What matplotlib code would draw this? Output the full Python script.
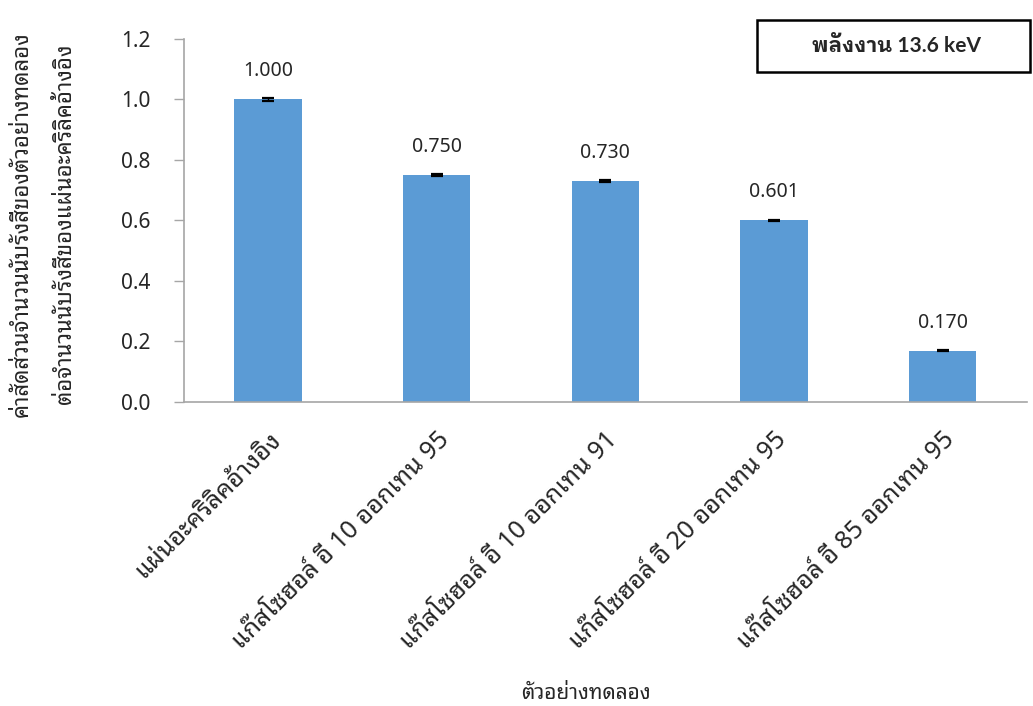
import matplotlib
matplotlib.use("Agg")
import matplotlib.pyplot as plt
from matplotlib.patches import Rectangle

FONT = ["Noto Sans", "Noto Sans Thai Looped", "DejaVu Sans"]
BOLD_FONT = ["Lato", "IBM Plex Sans Thai Looped", "Noto Sans Thai Looped"]
plt.rcParams["font.family"] = FONT

# Samples and their count ratios relative to the acrylic reference sheet
samples = [
    "แผ่นอะคริลิคอ้างอิง",
    "แก๊สโซฮอล์ อี 10 ออกเทน 95",
    "แก๊สโซฮอล์ อี 10 ออกเทน 91",
    "แก๊สโซฮอล์ อี 20 ออกเทน 95",
    "แก๊สโซฮอล์ อี 85 ออกเทน 95",
]
ratios = [1.000, 0.750, 0.730, 0.601, 0.170]
errors = [0.005, 0.004, 0.003, 0.002, 0.001]
value_labels = ["1.000", "0.750", "0.730", "0.601", "0.170"]
y_ticks = [0.0, 0.2, 0.4, 0.6, 0.8, 1.0, 1.2]

ylabel_line1 = "ค่าสัดส่วนจำนวนนับรังสีของตัวอย่างทดลอง"
ylabel_line2 = "ต่อจำนวนนับรังสีของแผ่นอะคริลิคอ้างอิง"
xlabel = "ตัวอย่างทดลอง"
energy_text = "พลังงาน 13.6 keV"

TEXT = "#262626"

fig = plt.figure(figsize=(10.33, 7.06), dpi=100)
ax = fig.add_axes([0.178, 0.4306, 0.816, 0.5142])

x = list(range(len(samples)))
ax.bar(x, ratios, width=0.40, color="#5B9BD5", edgecolor="none", zorder=2)
ax.errorbar(x, ratios, yerr=errors, fmt="none", ecolor="black",
            elinewidth=1.0, capsize=4.5, capthick=1.6, zorder=3)

for xi, v, lab in zip(x, ratios, value_labels):
    ax.annotate(lab, (xi, v), xytext=(0, 13), textcoords="offset points",
                ha="center", va="bottom", fontsize=14, color=TEXT)

ax.set_xlim(-0.5, len(samples) - 0.5)
ax.set_ylim(0, 1.2)
ax.set_yticks(y_ticks)
ax.set_yticklabels([f"{t:.1f}" for t in y_ticks], fontsize=15, color=TEXT)
ax.set_xticks(x)
ax.set_xticklabels(samples, rotation=45, ha="right", va="top",
                   rotation_mode="anchor", fontsize=18, color=TEXT)

for s in ("top", "right"):
    ax.spines[s].set_visible(False)
for s in ("left", "bottom"):
    ax.spines[s].set_color("#A6A6A6")
    ax.spines[s].set_linewidth(1.2)
ax.tick_params(axis="y", direction="out", length=7, color="#A6A6A6", width=1.0, pad=17)
ax.tick_params(axis="x", length=0, pad=18)

fig.text(22 / 1033, 0.683, ylabel_line1, rotation=90, ha="center", va="center",
         fontsize=16, color=TEXT)
fig.text(66 / 1033, 0.683, ylabel_line2, rotation=90, ha="center", va="center",
         fontsize=16, color=TEXT)
fig.text(0.567, 0.010, xlabel, ha="center", va="baseline", fontsize=15, color=TEXT)

box_w, box_h = 273 / 1033, 52 / 706
box_x, box_y = 757 / 1033, 1 - 72 / 706
fig.patches.append(Rectangle((box_x, box_y), box_w, box_h, transform=fig.transFigure,
                             facecolor="white", edgecolor="black", linewidth=1.8))
fig.text(box_x + box_w / 2 + 0.003, box_y + box_h / 2, energy_text, ha="center",
         va="center", fontsize=15, fontweight="bold", family=BOLD_FONT, color=TEXT)

fig.savefig("out.png", dpi=100)
